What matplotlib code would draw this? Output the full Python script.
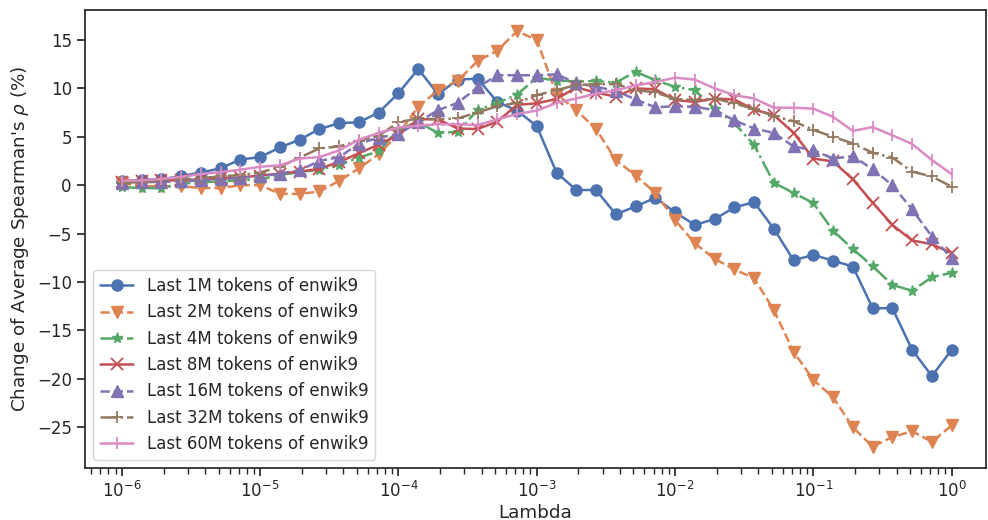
import numpy as np
import matplotlib
matplotlib.use("Agg")
import matplotlib.pyplot as plt
import seaborn as sns

sns.set_theme(style="ticks")
plt.rcParams['font.family'] = ['DejaVu Sans']

lambdas = 10 ** np.linspace(-6, 0, 43)

labels = ["Last 1M tokens of enwik9", "Last 2M tokens of enwik9", "Last 4M tokens of enwik9",
          "Last 8M tokens of enwik9", "Last 16M tokens of enwik9", "Last 32M tokens of enwik9",
          "Last 60M tokens of enwik9"]

s1m = [0.4, 0.55, 0.6, 0.95, 1.3, 1.75, 2.65, 2.9, 3.9, 4.7, 5.8, 6.4, 6.5, 7.5, 9.5, 12.0,
       9.4, 10.9, 11.0, 8.6, 7.7, 6.1, 1.3, -0.5, -0.5, -3.0, -2.2, -1.3, -2.8, -4.1, -3.5,
       -2.3, -1.75, -4.5, -7.75, -7.2, -7.8, -8.4, -12.7, -12.7, -17.0, -19.7, -17.0]
s2m = [0.2, -0.1, -0.1, -0.1, -0.3, -0.3, 0.0, 0.0, -0.9, -0.9, -0.65, 0.45, 1.75, 3.2, 5.3,
       8.1, 9.8, 10.8, 12.8, 13.9, 15.9, 15.0, 9.4, 7.75, 5.8, 2.6, 1.0, -0.8, -3.6, -6.0,
       -7.6, -8.7, -9.6, -12.9, -17.2, -20.1, -21.9, -25.0, -27.0, -26.0, -25.4, -26.5, -24.8]
s4m = [-0.2, -0.3, -0.3, 0.15, 0.3, 0.4, 0.5, 0.6, 1.05, 1.35, 1.6, 2.1, 2.85, 3.5, 5.8, 6.5,
       5.4, 5.5, 7.75, 8.5, 9.35, 11.1, 10.8, 10.7, 10.75, 10.6, 11.7, 10.85, 10.15, 9.8, 7.9,
       6.4, 4.15, 0.25, -0.8, -1.85, -4.7, -6.6, -8.35, -10.3, -10.9, -9.5, -9.05]
s8m = [0.3, 0.4, 0.5, 0.5, 0.6, 0.7, 0.8, 1.0, 1.2, 1.4, 1.7, 2.4, 3.3, 4.2, 5.2, 6.8, 6.8,
       5.85, 5.8, 6.55, 8.3, 8.45, 8.9, 10.1, 9.55, 9.15, 10.0, 9.9, 8.8, 8.6, 8.95, 8.85,
       7.8, 7.25, 5.4, 2.75, 2.45, 0.6, -1.8, -4.1, -5.7, -6.1, -7.0]
s16m = [0.2, 0.3, 0.35, 0.4, 0.5, 0.6, 0.75, 0.9, 1.2, 1.55, 2.5, 2.9, 4.3, 4.9, 5.3, 6.5,
        7.75, 8.5, 10.1, 11.35, 11.35, 11.35, 11.45, 10.55, 10.15, 9.75, 8.85, 8.05, 8.15,
        8.1, 7.75, 6.7, 5.85, 5.4, 4.0, 3.6, 2.75, 3.0, 1.65, 0.0, -2.5, -5.3, -7.55]
s32m = [0.2, 0.35, 0.5, 0.6, 0.75, 0.9, 1.05, 1.3, 1.9, 2.85, 3.8, 4.0, 4.6, 5.1, 6.5, 6.9,
        6.8, 6.9, 7.5, 8.15, 8.5, 9.3, 9.8, 10.35, 10.4, 10.45, 9.8, 9.6, 8.9, 8.8, 8.95,
        8.45, 7.85, 7.15, 6.6, 5.7, 5.0, 4.3, 3.35, 2.85, 1.4, 0.9, -0.15]
s60m = [0.45, 0.5, 0.65, 0.85, 1.15, 1.35, 1.6, 1.9, 2.05, 2.75, 2.9, 3.6, 4.7, 5.4, 5.95,
        6.15, 6.3, 6.3, 6.2, 6.8, 7.35, 7.7, 8.5, 8.95, 9.45, 9.8, 10.3, 10.65, 11.1, 10.9,
        10.0, 9.3, 8.95, 8.0, 8.0, 7.9, 7.05, 5.6, 6.0, 5.15, 4.25, 2.6, 1.15]

series = [s1m, s2m, s4m, s8m, s16m, s32m, s60m]
markers = ['o', 'v', '*', 'x', '^', '+', '|']
styles = ['-', '--', '-.', '-', '--', '-.', '-']
colors = sns.color_palette("deep", 7)

fig = plt.figure(figsize=(9.88, 5.2), dpi=100)
ax = fig.add_axes([0.086, 0.1, 0.9115, 0.881])

for y, lab, m, ls, c in zip(series, labels, markers, styles, colors):
    ax.plot(lambdas, y, marker=m, linestyle=ls, color=c, label=lab,
            linewidth=1.8, markersize=8,
            markeredgewidth=1.0 if m not in ('x', '+', '|') else 1.3)

ax.set_xscale('log')
ax.set_xlim(10 ** -6.267, 10 ** 0.245)
ax.set_ylim(-29.2, 18.1)
ax.set_yticks([-25, -20, -15, -10, -5, 0, 5, 10, 15])
ax.set_xlabel("Lambda", fontsize=13.2, labelpad=2)
ax.set_ylabel("Change of Average Spearman's $\\rho$ (%)", fontsize=13.2, labelpad=4)
ax.tick_params(labelsize=12)
for sp in ax.spines.values():
    sp.set_color('#262626')
    sp.set_linewidth(1.25)
ax.legend(loc='lower left', fontsize=12, borderaxespad=0.5)

fig.savefig("out.png", dpi=100)
